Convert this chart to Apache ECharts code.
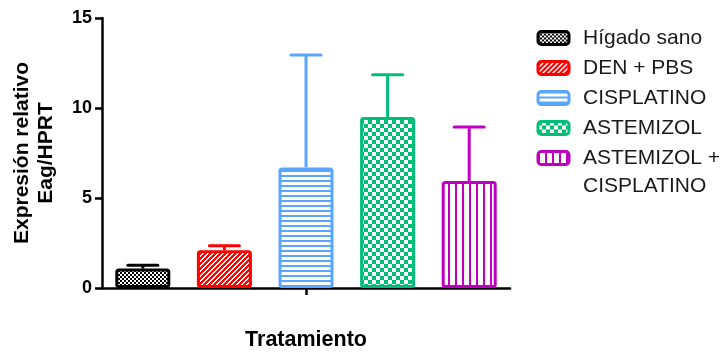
<!DOCTYPE html>
<html>
<head>
<meta charset="utf-8">
<script src="https://cdn.jsdelivr.net/npm/echarts@6/dist/echarts.min.js"></script>
<style>
  html, body { margin: 0; padding: 0; background: #ffffff; }
  #chart { width: 725px; height: 352px; }
</style>
</head>
<body>
<div id="chart"></div>
<script>
// Treatment groups, mean relative expression and upper error (SD)
const categories = ['Hígado sano', 'DEN + PBS', 'CISPLATINO', 'ASTEMIZOL', 'ASTEMIZOL + CISPLATINO'];
const means = [1.08, 2.1, 6.7, 9.5, 5.95];
const errors = [0.18, 0.25, 6.25, 2.35, 3.0];
const yTicks = [0, 5, 10, 15];
const colors = ['#000000', '#ff0000', '#5aa5ff', '#00be78', '#c000c0'];

const FONT = '"Liberation Sans", Arial, sans-serif';

// Legend labels longer than one line are wrapped after " + "
function legendLines(name) {
  const k = name.indexOf(' + ');
  if (name.length > 14 && k > 0) return [name.slice(0, k + 2), name.slice(k + 3)];
  return [name];
}

// Small repeating canvas tiles used as bar fills
function tile(w, h, fg, bg, isFg) {
  const c = document.createElement('canvas');
  c.width = w; c.height = h;
  const ctx = c.getContext('2d');
  ctx.fillStyle = bg; ctx.fillRect(0, 0, w, h);
  ctx.fillStyle = fg;
  for (let y = 0; y < h; y++) {
    for (let x = 0; x < w; x++) {
      if (isFg(x, y)) ctx.fillRect(x, y, 1, 1);
    }
  }
  return c;
}
const patterns = [
  tile(4, 4, colors[0], '#ffffff', (x, y) => ((x >> 1) + (y >> 1)) % 2 === 0),
  tile(5, 5, colors[1], '#ffffff', (x, y) => ((x + y) % 5) >= 2),
  tile(1, 5, colors[2], '#ffffff', (x, y) => y < 2),
  tile(8, 8, colors[3], '#ffffff', (x, y) => ((x >> 2) + (y >> 2)) % 2 === 0),
  tile(7, 1, colors[4], '#ffffff', (x, y) => x < 2)
];

const barSeries = categories.map((name, i) => ({
  name: name,
  type: 'bar',
  stack: 'groups',
  barWidth: 55,
  data: categories.map((_, j) => (j === i ? means[i] : '-')),
  itemStyle: {
    color: { image: patterns[i], repeat: 'repeat' },
    borderColor: colors[i],
    borderWidth: 3,
    borderRadius: 2
  },
  emphasis: { disabled: true },
  z: 2
}));

const errorSeries = {
  type: 'custom',
  name: 'error',
  data: means.map((m, i) => [i, m, errors[i]]),
  encode: { x: 0, y: 1 },
  z: 3,
  renderItem: function (params, api) {
    const i = api.value(0);
    const m = api.value(1);
    const e = api.value(2);
    const p0 = api.coord([i, m]);
    const p1 = api.coord([i, m + e]);
    const half = 15;
    return {
      type: 'group',
      children: [
        { type: 'line', shape: { x1: p0[0], y1: p0[1], x2: p1[0], y2: p1[1] },
          style: { stroke: colors[i], lineWidth: 3 } },
        { type: 'line', shape: { x1: p1[0] - half, y1: p1[1], x2: p1[0] + half, y2: p1[1] },
          style: { stroke: colors[i], lineWidth: 3, lineCap: 'round' } }
      ]
    };
  }
};

// Legend geometry
const LEG_LEFT = 536.5;
const LEG_TOP = 26;
const LEG_ROW = 30;
const LEG_TEXT_X = 583;
const LEG_FONT_SIZE = 21;

// continuation lines of wrapped legend labels
const extraLines = [];
categories.forEach((name, i) => {
  legendLines(name).slice(1).forEach((line, k) => {
    extraLines.push({
      type: 'text',
      left: LEG_TEXT_X,
      top: LEG_TOP + 12 + i * LEG_ROW + (k + 1) * 28 - 12,
      style: { text: line, font: LEG_FONT_SIZE + 'px ' + FONT, fill: '#1a1a1a', lineHeight: 24 },
      silent: true
    });
  });
});

const chart = echarts.init(document.getElementById('chart'), null, { renderer: 'canvas' });
chart.setOption({
  animation: false,
  textStyle: { fontFamily: FONT },
  grid: { left: 102, right: 215, top: 18, bottom: 64, containLabel: false, outerBoundsMode: 'none' },
  legend: {
    data: categories,
    orient: 'vertical',
    left: LEG_LEFT,
    top: LEG_TOP,
    padding: 0,
    itemWidth: 31,
    itemHeight: 13,
    itemGap: LEG_ROW - 24,
    icon: 'roundRect',
    selectedMode: false,
    itemStyle: { borderWidth: 3 },
    formatter: (name) => legendLines(name)[0],
    textStyle: {
      fontFamily: FONT,
      fontSize: LEG_FONT_SIZE,
      lineHeight: 24,
      color: '#1a1a1a',
      padding: [0, 0, 0, 9]
    }
  },
  graphic: extraLines,
  xAxis: {
    type: 'category',
    data: categories,
    name: 'Tratamiento',
    nameLocation: 'middle',
    nameGap: 41,
    nameTextStyle: { fontFamily: FONT, fontSize: 21.5, fontWeight: 'bold', color: '#000' },
    axisLine: { show: true, lineStyle: { color: '#000', width: 2.5 } },
    axisTick: { show: true, alignWithLabel: true, interval: (idx) => idx === 2, length: 7, lineStyle: { color: '#000', width: 2.5 } },
    axisLabel: { show: false },
    splitLine: { show: false }
  },
  yAxis: {
    type: 'value',
    min: yTicks[0],
    max: yTicks[yTicks.length - 1],
    interval: yTicks[1] - yTicks[0],
    name: 'Expresión relativo\nEag/HPRT',
    nameLocation: 'middle',
    nameRotate: 90,
    nameGap: 44,
    nameTextStyle: { fontFamily: FONT, fontSize: 21, fontWeight: 'bold', lineHeight: 24, color: '#000' },
    axisLine: { show: true, lineStyle: { color: '#000', width: 2.5 } },
    axisTick: { show: true, length: 7, lineStyle: { color: '#000', width: 2.5 } },
    axisLabel: { margin: 10, fontFamily: FONT, fontSize: 18, fontWeight: 'bold', color: '#000' },
    splitLine: { show: false }
  },
  series: barSeries.concat([errorSeries])
});
</script>
</body>
</html>
